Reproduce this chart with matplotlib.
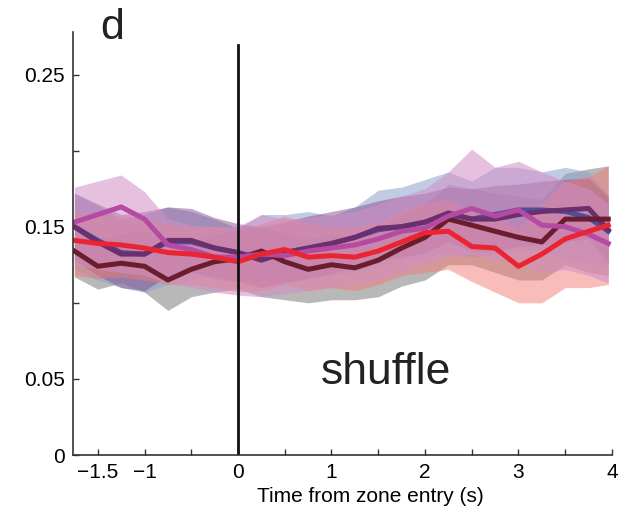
import numpy as np
import matplotlib.pyplot as plt

plt.rcParams['font.family'] = ['Liberation Sans', 'DejaVu Sans']

# time bins (s), relative to zone entry
t = [-1.75, -1.5, -1.25, -1.0, -0.75, -0.5, -0.25, 0.0, 0.25, 0.5, 0.75, 1.0,
     1.25, 1.5, 1.75, 2.0, 2.25, 2.5, 2.75, 3.0, 3.25, 3.5, 3.75, 3.96]

blue = [0.150, 0.141, 0.133, 0.132, 0.140, 0.140, 0.136, 0.133, 0.129, 0.133, 0.136, 0.139,
        0.143, 0.148, 0.150, 0.153, 0.158, 0.155, 0.158, 0.161, 0.161, 0.160, 0.156, 0.147]
blue_hi = [0.172, 0.164, 0.155, 0.158, 0.163, 0.160, 0.155, 0.149, 0.158, 0.158, 0.160, 0.157,
           0.163, 0.174, 0.176, 0.181, 0.186, 0.180, 0.189, 0.189, 0.186, 0.189, 0.186, 0.171]
blue_lo = [0.122, 0.115, 0.110, 0.107, 0.112, 0.115, 0.118, 0.115, 0.114, 0.114, 0.116, 0.118,
           0.120, 0.124, 0.128, 0.130, 0.133, 0.130, 0.132, 0.135, 0.134, 0.128, 0.126, 0.124]

purple = [0.150, 0.140, 0.132, 0.132, 0.141, 0.141, 0.136, 0.133, 0.128, 0.133, 0.136, 0.139,
          0.143, 0.149, 0.150, 0.153, 0.159, 0.155, 0.155, 0.158, 0.160, 0.161, 0.162, 0.148]
purple_hi = [0.172, 0.165, 0.158, 0.160, 0.163, 0.162, 0.156, 0.152, 0.150, 0.153, 0.157, 0.160,
             0.163, 0.167, 0.170, 0.172, 0.176, 0.175, 0.177, 0.178, 0.180, 0.181, 0.182, 0.170]
purple_lo = [0.128, 0.118, 0.110, 0.108, 0.118, 0.120, 0.116, 0.114, 0.110, 0.113, 0.116, 0.119,
             0.123, 0.128, 0.130, 0.133, 0.140, 0.134, 0.134, 0.137, 0.138, 0.140, 0.142, 0.126]

maroon = [0.134, 0.124, 0.126, 0.124, 0.115, 0.122, 0.127, 0.129, 0.134, 0.127, 0.122, 0.125,
          0.123, 0.128, 0.136, 0.143, 0.155, 0.151, 0.147, 0.143, 0.140, 0.155, 0.155, 0.155]
maroon_hi = [0.150, 0.142, 0.145, 0.148, 0.138, 0.140, 0.145, 0.148, 0.150, 0.146, 0.142, 0.145,
             0.143, 0.150, 0.158, 0.165, 0.178, 0.175, 0.172, 0.170, 0.168, 0.185, 0.188, 0.190]
maroon_lo = [0.117, 0.109, 0.113, 0.107, 0.095, 0.104, 0.107, 0.109, 0.104, 0.102, 0.100, 0.102,
             0.102, 0.104, 0.111, 0.115, 0.125, 0.125, 0.120, 0.115, 0.115, 0.125, 0.120, 0.118]

red = [0.141, 0.139, 0.138, 0.136, 0.133, 0.132, 0.130, 0.127, 0.132, 0.135, 0.130, 0.131,
       0.130, 0.134, 0.140, 0.146, 0.147, 0.137, 0.136, 0.124, 0.132, 0.142, 0.147, 0.151]
red_hi = [0.160, 0.158, 0.157, 0.155, 0.152, 0.150, 0.150, 0.148, 0.152, 0.157, 0.152, 0.150,
          0.150, 0.153, 0.160, 0.166, 0.168, 0.160, 0.158, 0.149, 0.165, 0.180, 0.183, 0.190]
red_lo = [0.118, 0.116, 0.117, 0.115, 0.112, 0.112, 0.110, 0.107, 0.108, 0.112, 0.108, 0.110,
          0.108, 0.112, 0.118, 0.120, 0.122, 0.114, 0.107, 0.100, 0.100, 0.110, 0.110, 0.112]

magenta = [0.153, 0.158, 0.163, 0.155, 0.138, 0.135, 0.130, 0.130, 0.132, 0.131, 0.134, 0.136,
           0.138, 0.142, 0.147, 0.149, 0.157, 0.162, 0.157, 0.161, 0.151, 0.150, 0.145, 0.139]
magenta_hi = [0.176, 0.180, 0.184, 0.173, 0.155, 0.151, 0.150, 0.150, 0.158, 0.155, 0.156, 0.158,
              0.160, 0.165, 0.170, 0.175, 0.186, 0.201, 0.189, 0.193, 0.186, 0.180, 0.175, 0.165]
magenta_lo = [0.125, 0.122, 0.120, 0.118, 0.113, 0.110, 0.107, 0.105, 0.104, 0.106, 0.108, 0.110,
              0.112, 0.115, 0.120, 0.125, 0.130, 0.132, 0.128, 0.125, 0.120, 0.122, 0.118, 0.113]

fig = plt.figure(figsize=(6.26, 5.16), dpi=100)
ax = fig.add_axes([0.1166, 0.1182, 0.861, 0.82])

# shaded bands
ax.fill_between(t, maroon_lo, maroon_hi, color='#8a8a8a', alpha=0.6, lw=0)
ax.fill_between(t, blue_lo, blue_hi, color='#8ea2cf', alpha=0.55, lw=0)
ax.fill_between(t, purple_lo, purple_hi, color='#86508e', alpha=0.5, lw=0)
ax.fill_between(t, red_lo, red_hi, color='#f27a74', alpha=0.5, lw=0)
ax.fill_between(t, magenta_lo, magenta_hi, color='#d28fc6', alpha=0.55, lw=0)

# mean traces
ax.plot(t, blue, color='#4a4fa0', lw=3.6)
ax.plot(t, purple, color='#6b2f6e', lw=3.6)
ax.plot(t, maroon, color='#6a1d2c', lw=3.6)
ax.plot(t, magenta, color='#b64aa3', lw=3.6)
ax.plot(t, red, color='#ea2431', lw=3.6)

ax.axvline(0, ymin=0, ymax=0.97, color='#111111', lw=2)

ax.set_xlim(-1.765, 4.0)
ax.set_ylim(0, 0.278)
for s in ['top', 'right']:
    ax.spines[s].set_visible(False)
for s in ['left', 'bottom']:
    ax.spines[s].set_color('#333333')
    ax.spines[s].set_linewidth(1.2)

ax.set_xticks([-1.5, -1, -0.5, 0, 0.5, 1, 1.5, 2, 2.5, 3, 3.5, 4])
ax.set_xticklabels(['\u22121.5', '\u22121', '', '0', '', '1', '', '2', '', '3', '', '4'])
ax.set_yticks([0, 0.05, 0.1, 0.15, 0.2, 0.25])
ax.set_yticklabels(['0', '0.05', '', '0.15', '', '0.25'])
ax.tick_params(direction='in', length=4, width=1, color='#333333', labelsize=15, pad=6)
ax.set_xlabel('Time from zone entry (s)', fontsize=15)
ax.xaxis.set_label_coords(0.551, -0.075)

ax.text(1.58, 0.054, 'shuffle', fontsize=32, ha='center', va='center', color='#222222')
fig.text(0.18, 0.945, 'd', fontsize=31, ha='center', va='center', color='#222222')

fig.savefig('out.png', dpi=100)
